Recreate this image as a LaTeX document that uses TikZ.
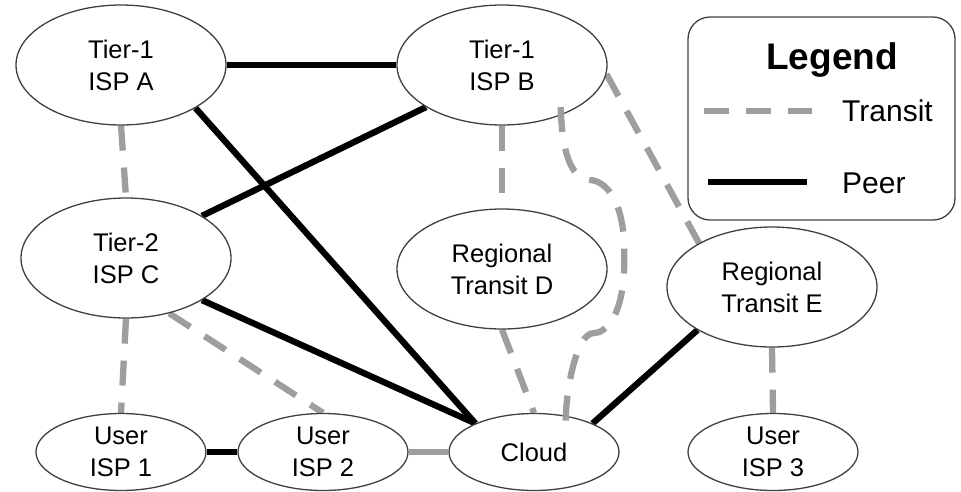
\documentclass[tikz,border=0pt]{standalone}
\usepackage{fontspec}
\setmainfont{Liberation Sans}
\usetikzlibrary{shapes.geometric,backgrounds,calc}
\definecolor{transitgray}{RGB}{158,158,158}
\definecolor{rim}{RGB}{64,64,64}
\begin{document}
\begin{tikzpicture}[x=1pt,y=-1pt,
  isp/.style={ellipse, draw=rim, line width=1.3pt, fill=white, inner sep=0pt,
    align=center, font=\fontsize{25.5}{32}\selectfont},
  bigisp/.style={isp, minimum width=210pt, minimum height=120pt},
  smallisp/.style={isp, minimum width=170pt, minimum height=77pt},
  transit/.style={draw=transitgray, line width=6.3pt, dash pattern=on 25pt off 17pt},
  peer/.style={draw=black, line width=6.3pt},
  graylink/.style={draw=transitgray, line width=6.3pt}]

\useasboundingbox (0,0) rectangle (961,491);

% ISP nodes
\node[bigisp] (A) at (121,65) {Tier-1\\ISP A};
\node[bigisp] (B) at (502,65) {Tier-1\\ISP B};
\node[bigisp] (C) at (126,258) {Tier-2\\ISP C};
\node[bigisp] (D) at (502,269) {Regional\\Transit D};
\node[bigisp] (E) at (772,287) {Regional\\Transit E};
\node[smallisp] (U1) at (121,452) {User\\ISP 1};
\node[smallisp] (U2) at (323,452) {User\\ISP 2};
\node[smallisp] (Cl) at (534,452) {Cloud};
\node[smallisp] (U3) at (773,452) {User\\ISP 3};

% links, kept behind the ellipses
\begin{scope}[on background layer]
  \draw[peer] (A.east) -- (B.west);
  \draw[peer] (A.-30) -- (Cl.154.6);
  \draw[peer] (C.29) -- (B.209.6);
  \draw[peer] (C.-29.5) -- (Cl.154.6);
  \draw[peer] (E.210) -- (Cl.26);
  \draw[peer] (U1.east) -- (U2.west);
  \draw[graylink] (U2.east) -- (Cl.west);
  \draw[transit] (A.south) -- (C.north);
  \draw[transit] (B.south) -- (D.north);
  \draw[transit] (B.-5) -- (E.149);
  \draw[transit] (D.south) -- (Cl.north);
  \draw[transit] (E.south) -- (U3.north);
  \draw[transit] (C.south) -- (U1.north);
  \draw[transit] (C.-52) -- (U2.north);
\end{scope}

% hand-drawn transit route from B down to the cloud, laid over both borders
\draw[transit] ($(B.-40)+(-1,-8)$)
    .. controls (562,150) and (570,179) .. (590,180)
    .. controls (606,181) and (622,200) .. (624,242)
    .. controls (626,290) and (619,318) .. (603,330)
    .. controls (596,335) and (592,331) .. (587,336)
    .. controls (575,346) and (566,390) .. ($(Cl.50)+(1,6)$);

% legend
\node[draw=rim, line width=1.3pt, rounded corners=22pt,
      minimum width=267pt, minimum height=203pt] (legend) at (821.5,118.5) {};
\node[font=\bfseries\fontsize{37}{42}\selectfont] (ltitle) at (832,60) {Legend};
\coordinate (ta) at (704,111);
\coordinate (tb) at (812,111);
\draw[transit] (ta) -- (tb);
\node[anchor=west, inner sep=0pt, font=\fontsize{30}{36}\selectfont] (ltransit) at (842,111) {Transit};
\coordinate (pa) at (708,182);
\coordinate (pb) at (807,182);
\draw[peer] (pa) -- (pb);
\node[anchor=west, inner sep=0pt, font=\fontsize{30}{36}\selectfont] (lpeer) at (842,183) {Peer};
\end{tikzpicture}
\end{document}
